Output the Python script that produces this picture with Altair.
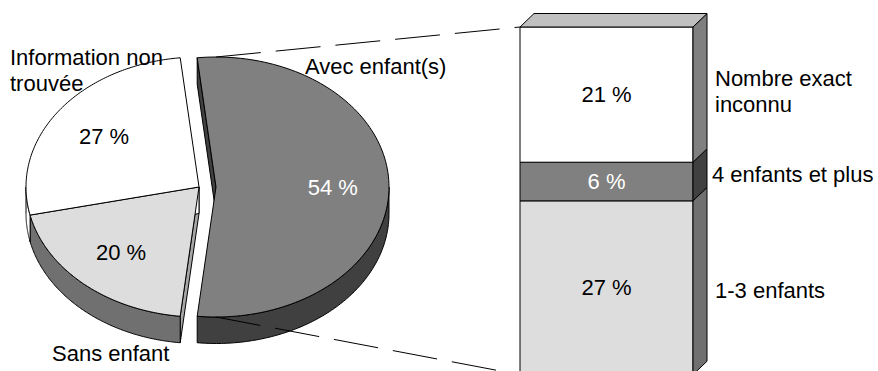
import math
import altair as alt
import pandas as pd

W, H = 878, 371
FONT = "Liberation Sans"
FS = 22

# ---- data ----
pie_labels = ["Avec enfant(s)", "Sans enfant", "Information non\ntrouvée"]
pie_values = [54, 20, 27]
# breakdown of "Avec enfant(s)", stacked from bottom to top
bar_labels = ["1-3 enfants", "4 enfants et plus", "Nombre exact\ninconnu"]
bar_values = [27, 6, 21]

# ---- styles ----
pie_top_fill = ["#808080", "#DDDDDD", "#FFFFFF"]
pie_side_fill = ["#404040", "#707070", "#FFFFFF"]
pie_wall_fill = ["#404040", "#A6A6A6", "#FFFFFF"]
pie_value_color = ["#FFFFFF", "#000000", "#000000"]
pie_explode = [17, 0, 0]
bar_front_fill = ["#DDDDDD", "#808080", "#FFFFFF"]
bar_side_fill = ["#707070", "#404040", "#808080"]
bar_value_color = ["#000000", "#FFFFFF", "#000000"]

# ---- layout (pixels) ----
CX, CY, RX, RY, DEPTH = 199, 187, 173, 130, 26.5
LABEL_R = 0.675
NPTS = 120
BAR_X0, BAR_X1 = 520, 693
BAR_TOP, BAR_BOTTOM = 27, 374.7
BAR_DX, BAR_DY = 14, 13.5
pie_label_x = [305, 52, 10]
pie_label_y = [67, 354, 58]
bar_label_x = [715, 712, 715]
bar_label_y = [290.7, 175, 79]
LINE_H = 25.5

# pixel scales shared by the pie, and a value scale for the stacked bar
xs = alt.Scale(domain=[0, W], nice=False, zero=False)
ys = alt.Scale(domain=[0, H], nice=False, zero=False, reverse=True)
unit_px = (BAR_BOTTOM - BAR_TOP) / sum(bar_values)
bar_d0 = (BAR_BOTTOM - H) / unit_px
bys = alt.Scale(domain=[bar_d0, bar_d0 + H / unit_px], nice=False, zero=False)
bar_du = BAR_DY / unit_px

pie_df = pd.DataFrame({
    "label": pie_labels,
    "value": pie_values,
    "idx": list(range(len(pie_values))),
    "explode": pie_explode,
    "top": pie_top_fill,
    "side": pie_side_fill,
    "wall": pie_wall_fill,
    "tc": pie_value_color,
})

pie = (
    alt.Chart(pie_df)
    .transform_joinaggregate(total="sum(value)")
    .transform_window(cum="sum(value)", first="first_value(value)",
                      sort=[alt.SortField("idx")], frame=[None, 0])
    .transform_calculate(start="PI/2 - PI*datum.first/datum.total")
    .transform_calculate(
        a0="datum.start + 2*PI*(datum.cum - datum.value)/datum.total",
        a1="datum.start + 2*PI*datum.cum/datum.total",
    )
    .transform_calculate(mid="(datum.a0 + datum.a1)/2")
    .transform_calculate(
        ox="datum.explode*sin(datum.mid)",
        oy=f"-datum.explode*cos(datum.mid)*{RY}/{RX}",
    )
)

XP = alt.X("px:Q", scale=xs, axis=None)
YP = alt.Y("py:Q", scale=ys, axis=None)

# radial walls exposed by the exploded slice
walls = (
    pie.transform_fold(["a0", "a1"], as_=["edge", "ang"])
    .transform_filter("(datum.edge == 'a0' && sin(datum.ang) < 0) || (datum.edge == 'a1' && sin(datum.ang) > 0)")
    .transform_calculate(k="sequence(0, 4)")
    .transform_flatten(["k"])
    .transform_calculate(
        px=f"{CX} + datum.ox + ((datum.k == 1 || datum.k == 2) ? {RX}*sin(datum.ang) : 0)",
        py=f"{CY} + datum.oy - ((datum.k == 1 || datum.k == 2) ? {RY}*cos(datum.ang) : 0) + (datum.k >= 2 ? {DEPTH} : 0)",
    )
    .mark_line(interpolate="linear-closed", stroke="black", strokeWidth=1)
    .encode(x=XP, y=YP, order="k:Q", detail=["label:N", "edge:N"],
            fill=alt.Fill("wall:N", scale=None))
)

# outer rim of the front half
sides = (
    pie.transform_calculate(b0="max(datum.a0, PI/2)", b1="min(datum.a1, 3*PI/2)")
    .transform_filter("datum.b1 > datum.b0")
    .transform_calculate(k=f"sequence(0, {2 * (NPTS + 1)})")
    .transform_flatten(["k"])
    .transform_calculate(
        t=f"datum.k <= {NPTS} ? datum.b0 + datum.k/{NPTS}*(datum.b1 - datum.b0) : datum.b1 - (datum.k - {NPTS + 1})/{NPTS}*(datum.b1 - datum.b0)",
        dn=f"datum.k > {NPTS} ? {DEPTH} : 0",
    )
    .transform_calculate(
        px=f"{CX} + datum.ox + {RX}*sin(datum.t)",
        py=f"{CY} + datum.oy - {RY}*cos(datum.t) + datum.dn",
    )
    .mark_line(interpolate="linear-closed", stroke="black", strokeWidth=1)
    .encode(x=XP, y=YP, order="k:Q", detail="label:N",
            fill=alt.Fill("side:N", scale=None))
)

# top faces of the slices
tops = (
    pie.transform_calculate(k=f"sequence(0, {NPTS + 2})")
    .transform_flatten(["k"])
    .transform_calculate(t=f"datum.a0 + (datum.k - 1)/{NPTS}*(datum.a1 - datum.a0)")
    .transform_calculate(
        px=f"{CX} + datum.ox + (datum.k == 0 ? 0 : {RX}*sin(datum.t))",
        py=f"{CY} + datum.oy - (datum.k == 0 ? 0 : {RY}*cos(datum.t))",
    )
    .mark_line(interpolate="linear-closed", stroke="black", strokeWidth=1)
    .encode(x=XP, y=YP, order="k:Q", detail="label:N",
            fill=alt.Fill("top:N", scale=None))
)

pie_values_text = (
    pie.transform_calculate(
        px=f"{CX} + datum.ox + {LABEL_R}*{RX}*sin(datum.mid)",
        py=f"{CY} + datum.oy - {LABEL_R}*{RY}*cos(datum.mid)",
        txt="datum.value + ' %'",
    )
    .mark_text(font=FONT, fontSize=FS, align="center", baseline="middle", dy=1)
    .encode(x=XP, y=YP, text="txt:N", color=alt.Color("tc:N", scale=None))
)

pie_cat_df = pd.DataFrame({"label": pie_labels, "px": pie_label_x, "py": pie_label_y})
pie_cat_text = (
    alt.Chart(pie_cat_df)
    .mark_text(font=FONT, fontSize=FS, align="left", baseline="middle",
               lineBreak="\n", lineHeight=LINE_H, color="black")
    .encode(x=XP, y=YP, text="label:N")
)

# dashed connectors from the exploded slice to the bar
tot = sum(pie_values)
start0 = math.pi / 2 - math.pi * pie_values[0] / tot
mid0 = start0 + math.pi * pie_values[0] / tot
ox0 = pie_explode[0] * math.sin(mid0)
oy0 = -pie_explode[0] * math.cos(mid0) * RY / RX
conn_df = pd.DataFrame({
    "px": [CX + ox0, CX + ox0],
    "py": [CY + oy0 - RY, CY + oy0 + RY],
    "px2": [BAR_X0, BAR_X0],
    "py2": [BAR_TOP, BAR_BOTTOM],
})
connectors = (
    alt.Chart(conn_df)
    .mark_rule(color="black", strokeWidth=1, strokeDash=[45, 15])
    .encode(x=XP, y=YP, x2="px2:Q", y2="py2:Q")
)

# ---- stacked bar ----
bar_df = pd.DataFrame({
    "label": bar_labels,
    "value": bar_values,
    "idx": list(range(len(bar_values))),
    "front": bar_front_fill,
    "side": bar_side_fill,
    "tc": bar_value_color,
})
bar = (
    alt.Chart(bar_df)
    .transform_joinaggregate(total="sum(value)")
    .transform_window(cum="sum(value)", sort=[alt.SortField("idx")], frame=[None, 0])
    .transform_calculate(y0="datum.cum - datum.value", ymid="datum.cum - datum.value/2")
)
YB = alt.Y("yb:Q", scale=bys, axis=None)

bar_front = (
    bar.mark_bar(stroke="black", strokeWidth=1)
    .encode(x=alt.value(BAR_X0), x2=alt.value(BAR_X1),
            y=alt.Y("y0:Q", scale=bys, axis=None), y2="cum:Q",
            fill=alt.Fill("front:N", scale=None))
)

bar_side = (
    bar.transform_calculate(k="sequence(0, 4)")
    .transform_flatten(["k"])
    .transform_calculate(
        px=f"datum.k <= 1 ? {BAR_X1} : {BAR_X1 + BAR_DX}",
        yb=f"((datum.k == 1 || datum.k == 2) ? datum.cum : datum.y0) + (datum.k >= 2 ? {bar_du} : 0)",
    )
    .mark_line(interpolate="linear-closed", stroke="black", strokeWidth=1)
    .encode(x=XP, y=YB, order="k:Q", detail="label:N",
            fill=alt.Fill("side:N", scale=None))
)

bar_top = (
    bar.transform_filter("datum.cum == datum.total")
    .transform_calculate(k="sequence(0, 4)")
    .transform_flatten(["k"])
    .transform_calculate(
        px=f"datum.k == 0 ? {BAR_X0} : datum.k == 1 ? {BAR_X0 + BAR_DX} : datum.k == 2 ? {BAR_X1 + BAR_DX} : {BAR_X1}",
        yb=f"datum.total + ((datum.k == 1 || datum.k == 2) ? {bar_du} : 0)",
    )
    .mark_line(interpolate="linear-closed", stroke="black", strokeWidth=1, fill="#C0C0C0")
    .encode(x=XP, y=YB, order="k:Q")
)

bar_values_text = (
    bar.transform_calculate(txt="datum.value + ' %'", px=f"({BAR_X0} + {BAR_X1})/2")
    .mark_text(font=FONT, fontSize=FS, align="center", baseline="middle", dy=0.5)
    .encode(x=XP, y=alt.Y("ymid:Q", scale=bys, axis=None), text="txt:N",
            color=alt.Color("tc:N", scale=None))
)

bar_cat_df = pd.DataFrame({"label": bar_labels, "px": bar_label_x, "py": bar_label_y})
bar_cat_text = (
    alt.Chart(bar_cat_df)
    .mark_text(font=FONT, fontSize=FS, align="left", baseline="middle",
               lineBreak="\n", lineHeight=LINE_H, color="black")
    .encode(x=XP, y=YP, text="label:N")
)

chart = (
    alt.layer(walls, sides, tops, connectors, pie_values_text, pie_cat_text,
              bar_front, bar_side, bar_top, bar_values_text, bar_cat_text)
    .resolve_scale(y="independent")
    .properties(width=W, height=H, padding=0, autosize="none", background="white")
    .configure_view(stroke=None)
)

chart.save("out.html", embed_options={"renderer": "svg", "actions": False})
